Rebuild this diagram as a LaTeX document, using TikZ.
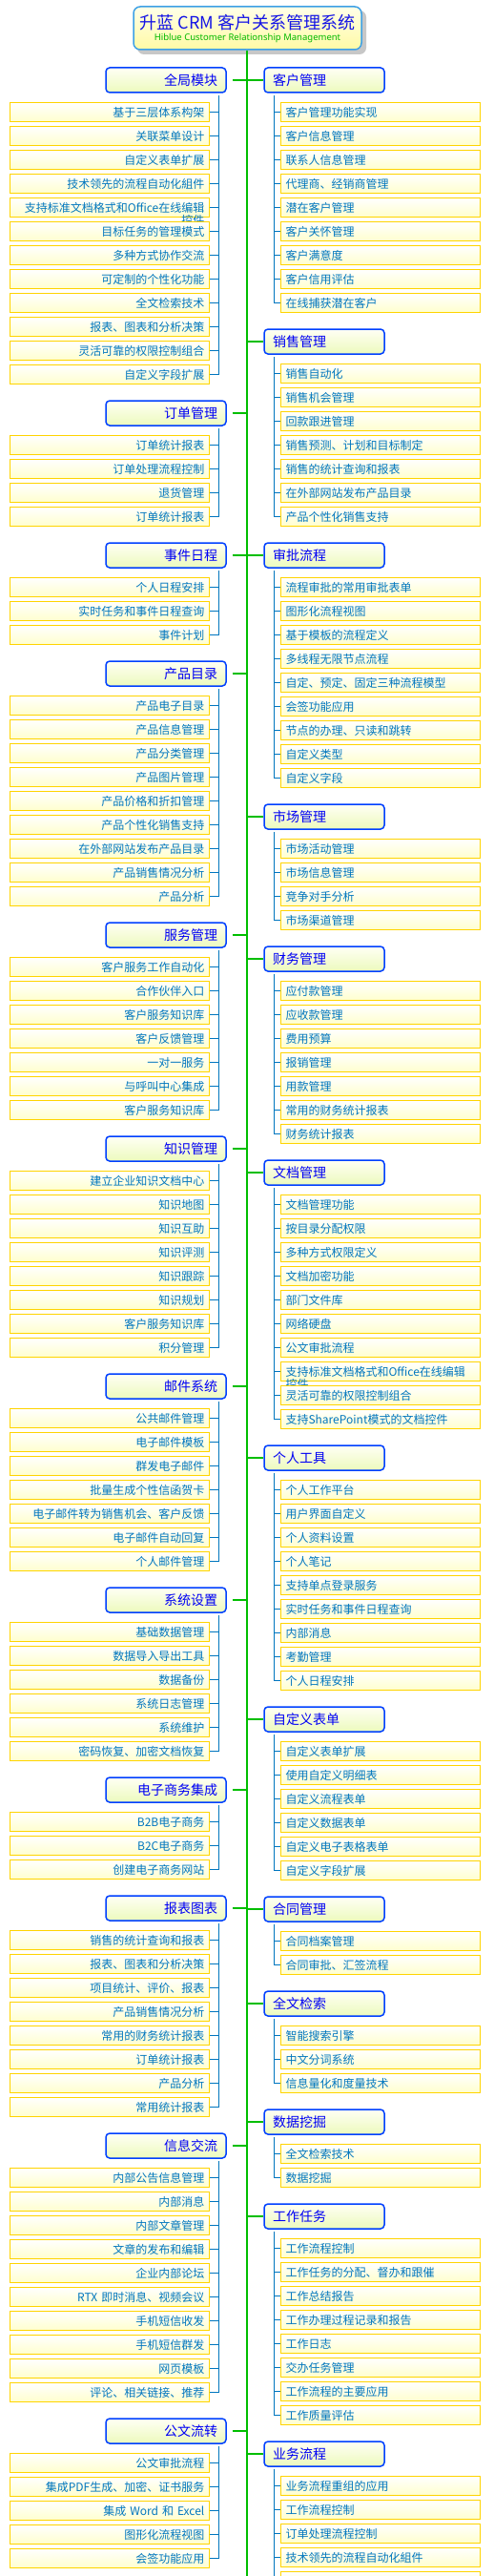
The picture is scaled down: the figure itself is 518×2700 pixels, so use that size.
\documentclass[tikz,border=0pt]{standalone}
\usepackage{fontspec}
\newfontfamily\cjk{Noto Sans CJK SC}
\newfontfamily\latinsans{Noto Sans}
\definecolor{catborder}{RGB}{0,64,255}
\definecolor{cattext}{RGB}{0,0,245}
\definecolor{catfilltop}{RGB}{255,255,245}
\definecolor{catfillbot}{RGB}{236,250,188}
\definecolor{leafborder}{RGB}{255,212,0}
\definecolor{leaffill}{RGB}{255,255,205}
\definecolor{leaftext}{RGB}{0,118,190}
\definecolor{trunkgreen}{RGB}{0,190,0}
\definecolor{titleborder}{RGB}{60,160,230}
\definecolor{titletop}{RGB}{255,255,232}
\definecolor{titlebot}{RGB}{255,250,165}
\definecolor{titletext}{RGB}{20,20,230}
\definecolor{subgreen}{RGB}{0,185,0}
\newcommand\wrapL[2]{\vphantom{控}\smash{\renewcommand\arraystretch{0.86}\begin{tabular}[t]{@{}r@{}}#1\\#2\end{tabular}}}
\newcommand\wrapR[2]{\vphantom{控}\smash{\renewcommand\arraystretch{0.86}\begin{tabular}[t]{@{}l@{}}#1\\#2\end{tabular}}}
\tikzset{
  leafbox/.style={draw=leafborder, line width=0.9pt, top color=white, bottom color=leaffill,
    minimum width=209pt, minimum height=20pt, inner xsep=5.5pt, inner ysep=0pt, text width=198pt,
    font=\cjk\fontsize{12}{14}\selectfont, text=leaftext},
  leafL/.style={leafbox, align=right},
  leafR/.style={leafbox, align=left},
  catbox/.style={draw=catborder, line width=1.5pt, rounded corners=4pt, top color=catfilltop, bottom color=catfillbot,
    minimum width=126pt, minimum height=26pt, inner xsep=9pt, inner ysep=0pt, text width=108pt,
    font=\cjk\fontsize{14}{16}\selectfont, text=cattext},
  catL/.style={catbox, align=right},
  catR/.style={catbox, align=left},
  trunkline/.style={draw=trunkgreen, line width=1.5pt},
  branchline/.style={draw=leaftext, line width=0.9pt},
}
\newcommand\groupL[4]{%
  \node[catL] (#1) at (174,#2) {#3};
  \coordinate (#1-t) at (259,#2);
  \draw[trunkline] ([xshift=6pt]#1.east) -- (#1-t);
  \coordinate (#1-v) at (229,#2+16);
  \foreach \txt [count=\i] in {#4} {
    \pgfmathsetmacro\yy{#2+33.5+25*(\i-1)}
    \node[leafL] (#1-\i) at (115.35,\yy) {\txt};
    \draw[branchline] (#1-\i.east) -- (#1-\i.east -| #1-v) -- (#1-v);
  }
}
\newcommand\groupR[4]{%
  \node[catR] (#1) at (340,#2) {#3};
  \coordinate (#1-t) at (259,#2);
  \draw[trunkline] (#1-t) -- (#1.west);
  \coordinate (#1-v) at (287,#2+16);
  \foreach \txt [count=\i] in {#4} {
    \pgfmathsetmacro\yy{#2+33.5+25*(\i-1)}
    \node[leafR] (#1-\i) at (398.5,\yy) {\txt};
    \draw[branchline] (#1-\i.west) -- (#1-\i.west -| #1-v) -- (#1-v);
  }
}
\begin{document}
\begin{tikzpicture}[x=1pt,y=-1pt]
\useasboundingbox (0,0) rectangle (518,2700);
\fill[white] (0,0) rectangle (518,2700);
% title
\fill[black!22, rounded corners=7pt] (144,11) rectangle (384,57);
\node[draw=titleborder, line width=1.5pt, rounded corners=7pt, top color=titletop, bottom color=titlebot,
  minimum width=239pt, minimum height=45pt, inner sep=0pt] (title) at (259.5,29.5) {};
\node[anchor=base, inner sep=0pt, text=titletext, font=\cjk\fontsize{18}{20}\selectfont] (t1) at (259.5,31) {升蓝 CRM 客户关系管理系统};
\node[anchor=base, inner sep=0pt, text=subgreen, font=\latinsans\fontsize{9.5}{11}\selectfont] (t2) at (259.5,42.5) {Hiblue Customer Relationship Management};
\coordinate (trunkend) at (259,2700);
\draw[trunkline] (title.south -| trunkend) -- (trunkend);
% left groups
\groupL{L1}{84}{全局模块}{基于三层体系构架,关联菜单设计,自定义表单扩展,技术领先的流程自动化組件,{\wrapL{支持标准文档格式和Office在线编辑}{控件}},目标任务的管理模式,多种方式协作交流,可定制的个性化功能,全文检索技术,报表、图表和分析决策,灵活可靠的权限控制组合,自定义字段扩展}
\groupL{L2}{433}{订单管理}{订单统计报表,订单处理流程控制,退货管理,订单统计报表}
\groupL{L3}{582}{事件日程}{个人日程安排,实时任务和事件日程查询,事件计划}
\groupL{L4}{706}{产品目录}{产品电子目录,产品信息管理,产品分类管理,产品图片管理,产品价格和折扣管理,产品个性化销售支持,在外部网站发布产品目录,产品销售情况分析,产品分析}
\groupL{L5}{980}{服务管理}{客户服务工作自动化,合作伙伴入口,客户服务知识库,客户反馈管理,一对一服务,与呼叫中心集成,客户服务知识库}
\groupL{L6}{1204}{知识管理}{建立企业知识文档中心,知识地图,知识互助,知识评测,知识跟踪,知识规划,客户服务知识库,积分管理}
\groupL{L7}{1453}{邮件系统}{公共邮件管理,电子邮件模板,群发电子邮件,批量生成个性信函贺卡,电子邮件转为销售机会、客户反馈,电子邮件自动回复,个人邮件管理}
\groupL{L8}{1677}{系统设置}{基础数据管理,数据导入导出工具,数据备份,系统日志管理,系统维护,密码恢复、加密文档恢复}
\groupL{L9}{1876}{电子商务集成}{B2B电子商务,B2C电子商务,创建电子商务网站}
\groupL{L10}{2000}{报表图表}{销售的统计查询和报表,报表、图表和分析决策,项目统计、评价、报表,产品销售情况分析,常用的财务统计报表,订单统计报表,产品分析,常用统计报表}
\groupL{L11}{2249}{信息交流}{内部公告信息管理,内部消息,内部文章管理,文章的发布和编辑,企业内部论坛,RTX 即时消息、视频会议,手机短信收发,手机短信群发,网页模板,评论、相关链接、推荐}
\groupL{L12}{2548}{公文流转}{公文审批流程,集成PDF生成、加密、证书服务,集成 Word 和 Excel,图形化流程视图,会签功能应用}
% right groups
\groupR{R1}{84}{客户管理}{客户管理功能实现,客户信息管理,联系人信息管理,代理商、经销商管理,潜在客户管理,客户关怀管理,客户满意度,客户信用评估,在线捕获潜在客户}
\groupR{R2}{358}{销售管理}{销售自动化,销售机会管理,回款跟进管理,销售预测、计划和目标制定,销售的统计查询和报表,在外部网站发布产品目录,产品个性化销售支持}
\groupR{R3}{582}{审批流程}{流程审批的常用审批表单,图形化流程视图,基于模板的流程定义,多线程无限节点流程,自定、预定、固定三种流程模型,会签功能应用,节点的办理、只读和跳转,自定义类型,自定义字段}
\groupR{R4}{856}{市场管理}{市场活动管理,市场信息管理,竞争对手分析,市场渠道管理}
\groupR{R5}{1005}{财务管理}{应付款管理,应收款管理,费用预算,报销管理,用款管理,常用的财务统计报表,财务统计报表}
\groupR{R6}{1229}{文档管理}{文档管理功能,按目录分配权限,多种方式权限定义,文档加密功能,部门文件库,网络硬盘,公文审批流程,{\wrapR{支持标准文档格式和Office在线编辑}{控件}},灵活可靠的权限控制组合,支持SharePoint模式的文档控件}
\groupR{R7}{1528}{个人工具}{个人工作平台,用户界面自定义,个人资料设置,个人笔记,支持单点登录服务,实时任务和事件日程查询,内部消息,考勤管理,个人日程安排}
\groupR{R8}{1802}{自定义表单}{自定义表单扩展,使用自定义明细表,自定义流程表单,自定义数据表单,自定义电子表格表单,自定义字段扩展}
\groupR{R9}{2001}{合同管理}{合同档案管理,合同审批、汇签流程}
\groupR{R10}{2100}{全文检索}{智能搜索引擎,中文分词系统,信息量化和度量技术}
\groupR{R11}{2224}{数据挖掘}{全文检索技术,数据挖掘}
\groupR{R12}{2323}{工作任务}{工作流程控制,工作任务的分配、督办和跟催,工作总结报告,工作办理过程记录和报告,工作日志,交办任务管理,工作流程的主要应用,工作质量评估}
\groupR{R13}{2572}{业务流程}{业务流程重组的应用,工作流程控制,订单处理流程控制,技术领先的流程自动化組件,\mbox{}}
\end{tikzpicture}
\end{document}
